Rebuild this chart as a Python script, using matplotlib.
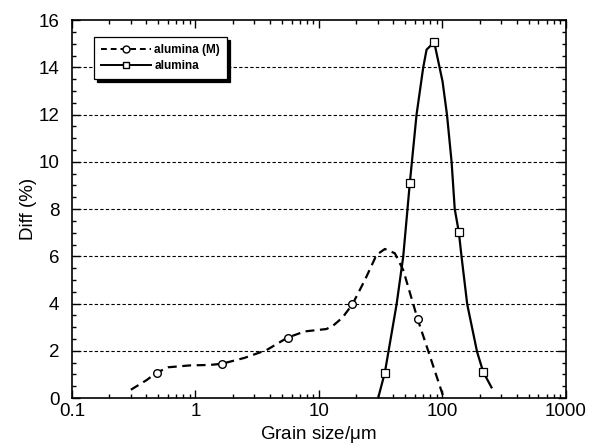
import numpy as np
import matplotlib
matplotlib.use('Agg')
import matplotlib.pyplot as plt
from matplotlib.ticker import MultipleLocator, LogLocator, NullFormatter

# alumina (M): curve, plus the marked points
m_curve_x = [0.30, 0.40, 0.485, 0.60, 0.90, 1.31, 1.64, 2.5, 3.77, 5.58, 7.7, 11.5, 13.0,
             15.5, 18.7, 23.6, 29.3, 34.2, 41.2, 48.2, 63.0, 79.0, 101.5]
m_curve_y = [0.35, 0.75, 1.07, 1.30, 1.38, 1.40, 1.45, 1.70, 2.03, 2.56, 2.82, 2.92, 3.06,
             3.4, 3.97, 5.0, 6.06, 6.31, 6.13, 5.42, 3.35, 1.8, 0.08]
m_mark_x = [0.485, 1.64, 5.58, 18.7, 63.0]
m_mark_y = [1.07, 1.45, 2.56, 3.97, 3.35]

# alumina: curve and marked points
a_curve_x = [30.2, 34.2, 42.6, 48.2, 52.2, 54.5, 61.8, 70.0, 74.5, 85.9,
             100.4, 109, 118.8, 126, 136, 143, 159, 191, 214, 250]
a_curve_y = [0.0, 1.07, 3.97, 5.99, 8.0, 9.1, 12.0, 14.0, 14.75, 15.07,
             13.4, 12.0, 10.0, 8.0, 7.02, 5.99, 3.97, 1.96, 1.11, 0.45]
a_mark_x = [34.2, 54.5, 85.9, 136, 214]
a_mark_y = [1.07, 9.1, 15.07, 7.02, 1.11]

plt.rcParams['font.family'] = ['Liberation Sans', 'DejaVu Sans']
plt.rcParams['mathtext.fontset'] = 'custom'
plt.rcParams['mathtext.rm'] = 'Liberation Sans'

fig = plt.figure(figsize=(5.9, 4.48), dpi=100)
ax = fig.add_axes([0.122, 0.1116, 0.837, 0.8434])

ax.set_xscale('log')
ax.set_xlim(0.1, 1000)
ax.set_ylim(0, 16)

for y in range(2, 16, 2):
    ax.axhline(y, color='black', lw=0.8, ls=(0, (3, 2)), zorder=1)

ax.plot(m_curve_x, m_curve_y, color='black', lw=1.6, ls=(0, (4, 2.5)), zorder=3)
ax.plot(m_mark_x, m_mark_y, ls='none', marker='o', ms=5.5, mfc='white',
        mec='black', mew=1.0, zorder=4)
ax.plot(a_curve_x, a_curve_y, color='black', lw=1.6, zorder=3)
ax.plot(a_mark_x, a_mark_y, ls='none', marker='s', ms=5.5, mfc='white',
        mec='black', mew=0.9, zorder=4)

# legend proxies
h1, = ax.plot([], [], color='black', lw=1.4, ls=(0, (3, 2)), marker='o', ms=5,
              mfc='white', mec='black', label='alumina (M)')
h2, = ax.plot([], [], color='black', lw=1.4, marker='s', ms=5,
              mfc='white', mec='black', label='alumina')
leg = ax.legend(handles=[h1, h2], loc='upper left', bbox_to_anchor=(0.045, 0.955),
                fancybox=False, edgecolor='black', framealpha=1,
                shadow={'color': 'black', 'alpha': 1}, handlelength=4.2,
                prop={'weight': 'bold', 'size': 8.5}, borderpad=0.6,
                labelspacing=0.3, handletextpad=0.3, borderaxespad=0)
leg.get_frame().set_linewidth(0.9)

ax.yaxis.set_major_locator(MultipleLocator(2))
ax.yaxis.set_minor_locator(MultipleLocator(0.5))
ax.xaxis.set_major_locator(LogLocator(base=10))
ax.xaxis.set_minor_locator(LogLocator(base=10, subs=np.arange(2, 10)))
ax.xaxis.set_minor_formatter(NullFormatter())
ax.set_xticks([0.1, 1, 10, 100, 1000])
ax.set_xticklabels(['0.1', '1', '10', '100', '1000'])

ax.tick_params(which='both', direction='in', top=True, right=True, labelsize=13.5)
ax.tick_params(which='major', length=6, width=1)
ax.tick_params(which='minor', length=3, width=1)
ax.tick_params(axis='y', which='major', pad=9)
for s in ax.spines.values():
    s.set_linewidth(1.2)

ax.set_xlabel('Grain size/$\\mathregular{\\mu}$m', fontsize=13.5, labelpad=3)
ax.set_ylabel('Diff (%)', fontsize=13.5)
ax.yaxis.set_label_coords(-0.07, 0.5)

fig.savefig('out.png', dpi=100)
